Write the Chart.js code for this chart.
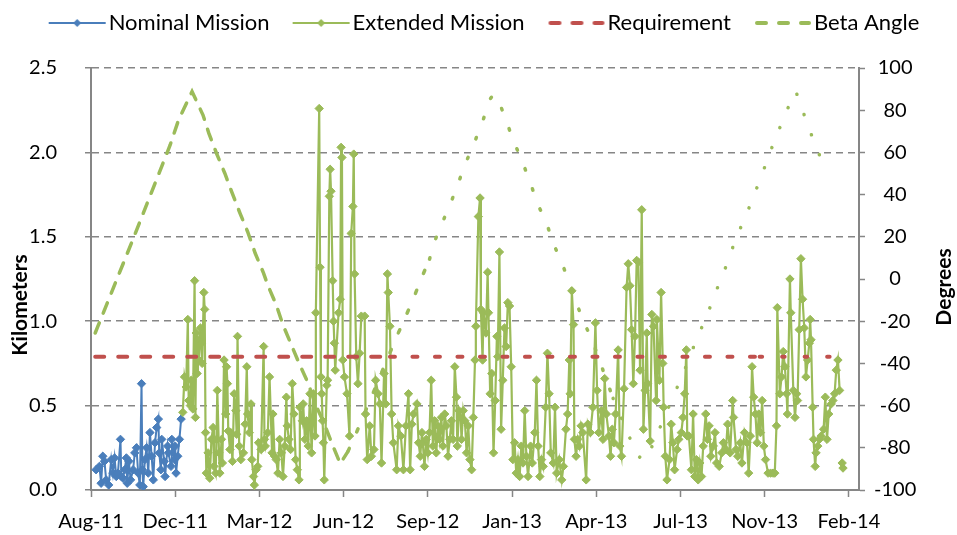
<!DOCTYPE html>
<html>
<head>
<meta charset="utf-8">
<title>Kilometers and Beta Angle</title>
<script src="https://cdn.jsdelivr.net/npm/chart.js@4.4.1/dist/chart.umd.min.js"></script>
<style>
  html, body { margin: 0; padding: 0; background: #ffffff; }
  canvas { display: block; }
</style>
</head>
<body>
<canvas id="chart" width="957" height="535"></canvas>
<script>
// x values are days after 25 Aug 2011 (first tick of the axis)
const tickDays = [0, 100, 200, 300, 400, 500, 600, 700, 800, 900];
const tickLabels = ["Aug-11", "Dec-11", "Mar-12", "Jun-12", "Sep-12", "Jan-13", "Apr-13", "Jul-13", "Nov-13", "Feb-14"];
const kmTicks = [0, 0.5, 1.0, 1.5, 2.0, 2.5];
const degTicks = [-100, -80, -60, -40, -20, 0, 20, 40, 60, 80, 100];
const leftTitle = "Kilometers";
const rightTitle = "Degrees";

const nominalDays = [
  6, 10, 12, 14, 16, 18, 21, 24, 26, 28,
  30, 32, 35, 36, 38, 40, 42, 43, 45, 47,
  50, 52, 54, 56, 58, 60, 61, 62, 64, 66,
  68, 70, 72, 74, 76, 78, 80, 81, 83, 84,
  87, 88, 91, 92, 95, 96, 99, 100, 101, 103,
  105, 107
];
const nominalKm = [
  0.12, 0.14, 0.04, 0.20, 0.17, 0.06, 0.03, 0.18, 0.10, 0.19,
  0.08, 0.10, 0.30, 0.08, 0.07, 0.12, 0.19, 0.04, 0.17, 0.06,
  0.12, 0.22, 0.25, 0.10, 0.03, 0.63, 0.12, 0.02, 0.18, 0.25,
  0.10, 0.34, 0.20, 0.06, 0.28, 0.37, 0.42, 0.22, 0.12, 0.30,
  0.17, 0.08, 0.26, 0.22, 0.14, 0.30, 0.18, 0.26, 0.10, 0.20,
  0.30, 0.42
];

const extendedDays = [
  109, 111, 113, 115, 116, 118, 119, 121, 123, 124,
  125, 126, 127, 128, 130, 131, 132, 134, 135, 136,
  137, 139, 141, 143, 145, 146, 148, 149, 150, 152,
  153, 155, 156, 158, 160, 161, 162, 163, 165, 166,
  168, 170, 172, 173, 174, 176, 178, 181, 183, 185,
  186, 188, 190, 191, 193, 194, 196, 198, 199, 202,
  205, 206, 207, 210, 212, 215, 216, 218, 220, 222,
  224, 226, 228, 230, 232, 233, 235, 237, 239, 241,
  243, 245, 247, 248, 251, 252, 254, 256, 258, 260,
  262, 264, 266, 267, 271, 272, 273, 274, 275, 276,
  277, 280, 281, 283, 284, 285, 287, 288, 289, 290,
  294, 296, 297, 298, 299, 301, 304, 307, 309, 311,
  312, 313, 315, 317, 319, 321, 325, 326, 328, 331,
  333, 336, 338, 341, 343, 345, 348, 350, 352, 353,
  355, 357, 359, 363, 365, 368, 371, 374, 377, 379,
  381, 383, 387, 389, 391, 393, 394, 396, 398, 400,
  402, 404, 406, 408, 410, 412, 414, 416, 418, 420,
  422, 424, 426, 428, 430, 432, 434, 435, 437, 439,
  440, 442, 444, 446, 448, 450, 452, 454, 456, 457,
  460, 462, 463, 465, 466, 469, 471, 472, 474, 476,
  478, 480, 482, 483, 485, 487, 489, 491, 493, 495,
  497, 499, 501, 503, 505, 507, 509, 511, 513, 515,
  517, 519, 522, 524, 527, 529, 531, 533, 535, 537,
  540, 542, 544, 546, 549, 551, 553, 556, 559, 561,
  564, 566, 568, 569, 571, 573, 574, 576, 578, 580,
  582, 584, 588, 590, 593, 596, 599, 601, 603, 606,
  608, 610, 612, 615, 617, 619, 621, 623, 626, 628,
  630, 633, 636, 638, 640, 642, 644, 646, 648, 650,
  652, 654, 656, 658, 660, 661, 664, 666, 668, 671,
  672, 675, 677, 679, 680, 682, 684, 687, 689, 691,
  693, 696, 698, 701, 703, 705, 707, 708, 710, 713,
  715, 717, 719, 721, 723, 725, 727, 730, 732, 734,
  736, 739, 741, 743, 746, 749, 751, 754, 756, 759,
  762, 763, 766, 768, 771, 773, 776, 779, 781, 783,
  785, 787, 789, 791, 793, 795, 797, 799, 801, 804,
  807, 810, 812, 814, 815, 818, 820, 822, 824, 826,
  827, 830, 831, 834, 836, 838, 839, 841, 843, 845,
  847, 849, 851, 853, 854, 855, 857, 858, 860, 861,
  863, 865, 867, 870, 872, 874, 876, 879, 881, 883,
  885, 887, 889, 891, 892, 893
];
const extendedKm = [
  0.46, 0.67, 0.61, 1.01, 0.53, 0.50, 0.65, 0.48, 1.24, 0.43,
  0.93, 0.69, 0.89, 0.77, 0.96, 0.87, 0.75, 1.17, 1.07, 0.34,
  0.10, 0.22, 0.07, 0.30, 0.37, 0.14, 0.10, 0.30, 0.59, 0.22,
  0.10, 0.30, 0.16, 0.77, 0.45, 0.73, 0.63, 0.35, 0.24, 0.34,
  0.17, 0.57, 0.47, 0.33, 0.91, 0.26, 0.18, 0.22, 0.39, 0.73,
  0.45, 0.34, 0.51, 0.18, 0.08, 0.03, 0.12, 0.14, 0.28, 0.24,
  0.85, 0.30, 0.26, 0.34, 0.67, 0.22, 0.45, 0.20, 0.18, 0.10,
  0.30, 0.22, 0.08, 0.26, 0.55, 0.38, 0.30, 0.24, 0.63, 0.45,
  0.18, 0.12, 0.06, 0.49, 0.41, 0.51, 0.30, 0.41, 0.26, 0.57,
  0.22, 0.57, 0.32, 1.05, 2.26, 1.32, 0.67, 0.57, 0.41, 0.28,
  0.06, 0.62, 0.65, 1.74, 1.90, 1.77, 1.24, 1.00, 0.87, 0.71,
  1.05, 1.13, 2.03, 1.97, 0.77, 0.67, 0.57, 0.32, 1.52, 1.68,
  1.99, 1.28, 0.79, 0.63, 0.81, 1.03, 1.03, 0.45, 0.18, 0.38,
  0.20, 0.24, 0.65, 0.57, 0.51, 0.16, 0.69, 0.51, 1.28, 1.17,
  0.97, 0.45, 0.28, 0.12, 0.38, 0.32, 0.12, 0.38, 0.57, 0.12,
  0.39, 0.45, 0.51, 0.28, 0.20, 0.34, 0.28, 0.14, 0.30, 0.22,
  0.34, 0.65, 0.26, 0.41, 0.22, 0.38, 0.30, 0.43, 0.26, 0.45,
  0.38, 0.20, 0.30, 0.41, 0.30, 0.73, 0.55, 0.26, 0.47, 0.43,
  0.30, 0.47, 0.41, 0.22, 0.38, 0.18, 0.12, 0.43, 0.77, 0.97,
  1.62, 1.73, 1.07, 0.77, 1.05, 0.93, 1.29, 1.05, 0.57, 0.69,
  0.22, 0.53, 0.91, 0.79, 1.41, 0.36, 0.65, 0.96, 0.85, 1.11,
  1.09, 0.73, 0.18, 0.28, 0.10, 0.18, 0.08, 0.26, 0.16, 0.47,
  0.20, 0.08, 0.26, 0.16, 0.34, 0.65, 0.26, 0.08, 0.18, 0.14,
  0.49, 0.81, 0.57, 0.22, 0.16, 0.49, 0.10, 0.18, 0.06, 0.14,
  0.36, 0.45, 0.77, 0.57, 1.18, 0.98, 0.30, 0.20, 0.30, 0.26,
  0.38, 0.34, 0.06, 0.39, 0.34, 0.49, 0.99, 0.59, 0.34, 0.47,
  0.30, 0.66, 0.45, 0.32, 0.20, 0.36, 0.28, 0.45, 0.83, 0.26,
  0.20, 0.60, 1.20, 1.34, 1.21, 0.95, 0.63, 0.91, 1.36, 1.35,
  0.71, 1.66, 0.36, 0.59, 0.93, 0.63, 0.29, 1.04, 0.97, 0.53,
  1.01, 0.65, 1.17, 0.75, 0.49, 0.20, 0.06, 0.18, 0.39, 0.28,
  0.12, 0.24, 0.30, 0.34, 0.43, 0.57, 0.83, 0.32, 0.32, 0.12,
  0.45, 0.08, 0.18, 0.06, 0.16, 0.08, 0.26, 0.45, 0.30, 0.38,
  0.20, 0.26, 0.34, 0.16, 0.14, 0.22, 0.28, 0.24, 0.39, 0.22,
  0.53, 0.43, 0.24, 0.20, 0.28, 0.16, 0.34, 0.28, 0.10, 0.32,
  0.73, 0.55, 0.45, 0.28, 0.45, 0.34, 0.53, 0.26, 0.18, 0.10,
  0.10, 0.10, 0.10, 0.38, 1.08, 0.57, 0.67, 0.82, 0.73, 0.57,
  0.45, 1.25, 1.05, 0.59, 0.43, 0.57, 0.53, 0.95, 1.37, 1.13,
  0.96, 0.67, 0.77, 0.87, 1.01, 0.89, 0.49, 0.30, 0.14, 0.22,
  0.26, 0.30, 0.32, 0.36, 0.55, 0.30, 0.45, 0.51, 0.53, 0.57,
  0.71, 0.77, 0.59, null, 0.16, 0.13
];

const requirementDays = [5, 355, 794, 884];
const requirementKm = [0.79, 0.79, 0.79, 0.79];

const betaDays = [
  5, 8, 48, 94, 104, 120, 133, 140, 149, 159,
  167, 177, 186, 195, 205, 210, 220, 228, 238, 248,
  258, 266, 276, 286, 296, 305, 315, 335, 363, 373,
  383, 392, 402, 409, 419, 429, 438, 447, 457, 466,
  474, 478, 485, 494, 503, 513, 522, 530, 541, 549,
  559, 568, 576, 585, 595, 604, 620, 640, 651, 656,
  661, 691, 702, 711, 720, 731, 739, 749, 758, 766,
  777, 786, 796, 804, 813, 825, 837, 849, 860, 873
];
const betaDeg = [
  -25.6, -22.6, 17, 63.5, 75.4, 88.8, 77.7, 69, 59.6, 50,
  41.4, 31.1, 22.4, 12.2, 2.7, -3, -12.3, -21.8, -31.3, -40.8,
  -49.5, -59, -67.6, -77.9, -87.5, -81.8, -73, -54, -27.3, -18.4,
  -9.2, 0, 9.4, 18.8, 28.4, 37.9, 47.5, 56.9, 66.4, 75.8,
  85.3, 87.5, 83.6, 73.8, 64.3, 54.8, 45.3, 35.9, 26.4, 16.9,
  7.7, -1.6, -11, -20.2, -28.9, -38.8, -56.6, -75.5, -84.2, -86,
  -84.2, -56, -46, -37, -27.5, -18, -9, 0.8, 10, 19.8,
  29, 38.7, 48.3, 57.8, 66.7, 78.8, 89, 75.4, 63.5, 51.3
];

const blue = "#4A7EBB";
const green = "#9BBB59";
const red = "#C0504D";
const gray = "#868686";

Chart.defaults.font.family = "Lato, 'Liberation Sans', sans-serif";
Chart.defaults.font.size = 20;
Chart.defaults.color = "#000";

function pairs(xs, ys) {
  return xs.map((x, i) => ({ x: x, y: ys[i] }));
}

// dash pattern of the beta line gets shorter towards the right, like the original
function betaDash(ctx) {
  const d = ctx.p0.parsed.x;
  if (d < 300) return [11, 10.5];
  if (d < 400) return [3.5, 18];
  if (d < 610) return [1.5, 20];
  return [0.1, 21.4];
}
function reqDash(ctx) {
  const d = ctx.p0.parsed.x;
  if (d < 355) return [9, 14];
  if (d < 794) return [5, 17.5];
  return [2.5, 20];
}

// little line sample for the legend (solid with diamond, or dashed)
function legendSample(color, dashed, marker) {
  const c = document.createElement("canvas");
  c.width = 80;
  c.height = 14;
  const g = c.getContext("2d");
  g.strokeStyle = color;
  g.lineWidth = dashed ? 4 : 2;
  g.lineCap = dashed ? "round" : "butt";
  g.setLineDash(dashed ? [9, 13] : []);
  g.beginPath();
  g.moveTo(dashed ? 24 : 21, 7);
  g.lineTo(dashed ? 76 : 78, 7);
  g.stroke();
  if (marker) {
    g.fillStyle = color;
    g.beginPath();
    g.moveTo(49.5, 3);
    g.lineTo(53.5, 7);
    g.lineTo(49.5, 11);
    g.lineTo(45.5, 7);
    g.closePath();
    g.fill();
  }
  return c;
}
const samples = [
  legendSample(blue, false, true),
  legendSample(green, false, true),
  legendSample(red, true, false),
  legendSample(green, true, false)
];

const legendHeight = {
  id: "legendHeight",
  beforeInit(chart) {
    const fit = chart.legend.fit;
    chart.legend.fit = function () {
      fit.call(this);
      this.height = 68;
    };
  }
};

const axisTitles = {
  id: "axisTitles",
  afterDraw(chart) {
    const g = chart.ctx;
    g.save();
    g.font = "bold 21px Lato";
    g.fillStyle = "#000";
    g.textAlign = "center";
    g.textBaseline = "middle";
    [[leftTitle, 20, 305], [rightTitle, 944, 287]].forEach(([t, x, y]) => {
      g.save();
      g.translate(x, y);
      g.rotate(-Math.PI / 2);
      g.fillText(t, 0, 0);
      g.restore();
    });
    g.restore();
  }
};

new Chart(document.getElementById("chart"), {
  type: "line",
  data: {
    datasets: [
      {
        label: "Nominal Mission",
        data: pairs(nominalDays, nominalKm),
        yAxisID: "y",
        borderColor: blue,
        backgroundColor: blue,
        borderWidth: 2,
        pointStyle: "rectRot",
        pointRadius: 4.2,
        pointBorderWidth: 1,
        order: 3
      },
      {
        label: "Extended Mission",
        data: pairs(extendedDays, extendedKm),
        yAxisID: "y",
        borderColor: green,
        backgroundColor: green,
        borderWidth: 2.2,
        pointStyle: "rectRot",
        pointRadius: 4.2,
        pointBorderWidth: 1,
        order: 2
      },
      {
        label: "Requirement",
        data: pairs(requirementDays, requirementKm),
        yAxisID: "y",
        borderColor: red,
        borderWidth: 4,
        borderCapStyle: "round",
        pointRadius: 0,
        segment: { borderDash: reqDash },
        order: 1
      },
      {
        label: "Beta Angle",
        data: pairs(betaDays, betaDeg),
        yAxisID: "y1",
        borderColor: green,
        borderWidth: 3.5,
        borderCapStyle: "round",
        pointRadius: 0,
        segment: { borderDash: betaDash },
        order: 0
      }
    ]
  },
  options: {
    responsive: false,
    animation: false,
    layout: { padding: 0 },
    plugins: {
      tooltip: { enabled: false },
      legend: {
        position: "top",
        labels: {
          usePointStyle: true,
          pointStyleWidth: 60,
          padding: 12,
          font: { size: 22 },
          color: "#000",
          generateLabels: (chart) => chart.data.datasets.map((ds, i) => ({
            text: ds.label,
            pointStyle: samples[i],
            datasetIndex: i,
            fontColor: "#000",
            lineWidth: 0,
            strokeStyle: "rgba(0,0,0,0)",
            fillStyle: "rgba(0,0,0,0)",
            hidden: false
          }))
        }
      }
    },
    scales: {
      x: {
        type: "linear",
        min: 0,
        max: 912,
        afterBuildTicks: (s) => { s.ticks = tickDays.map((v) => ({ value: v })); },
        ticks: {
          autoSkip: false,
          maxRotation: 0,
          padding: 13,
          callback: (v) => tickLabels[tickDays.indexOf(v)]
        },
        grid: { drawOnChartArea: false, tickLength: 7, tickColor: gray, tickWidth: 1.5, color: gray },
        border: { color: gray, width: 2 },
        afterFit: (s) => { s.height = 45; }
      },
      y: {
        position: "left",
        min: 0,
        max: 2.5,
        afterBuildTicks: (s) => { s.ticks = kmTicks.map((v) => ({ value: v })); },
        ticks: { padding: 28, callback: (v) => v.toFixed(1) },
        grid: {
          color: (c) => (c.tick && c.tick.value === 0 ? "rgba(0,0,0,0)" : gray),
          lineWidth: 1.5,
          tickLength: 6,
          tickColor: gray,
          tickWidth: 1.5,
          tickBorderDash: []
        },
        border: { color: gray, width: 2, dash: [7, 5] },
        afterFit: (s) => { s.width = 91; }
      },
      y1: {
        position: "right",
        min: -100,
        max: 100,
        afterBuildTicks: (s) => { s.ticks = degTicks.map((v) => ({ value: v })); },
        ticks: { padding: 9, crossAlign: "center" },
        grid: { drawOnChartArea: false, tickLength: 6, tickColor: gray, tickWidth: 1.5 },
        border: { color: gray, width: 2 },
        afterFit: (s) => { s.width = 98; }
      }
    }
  },
  plugins: [legendHeight, axisTitles]
});
</script>
</body>
</html>
